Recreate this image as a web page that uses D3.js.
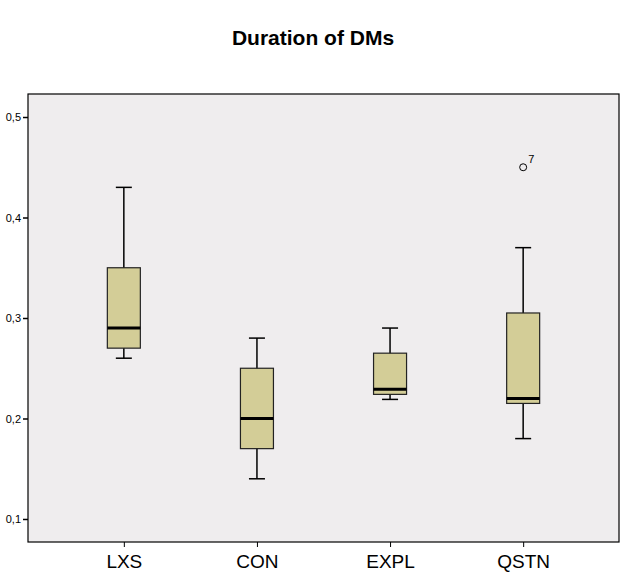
<!DOCTYPE html>
<html>
<head>
<meta charset="utf-8">
<script src="https://cdn.jsdelivr.net/npm/d3@7"></script>
<style>
  body { margin: 0; background: #fff; }
  text { font-family: Arial, "Liberation Sans", sans-serif; }
</style>
</head>
<body>
<svg id="chart" width="626" height="581"></svg>
<script>
// Boxplot: Duration of DMs

var categories = ["LXS", "CON", "EXPL", "QSTN"]
  , whiskerLow  = [0.26, 0.14, 0.219, 0.18]
  , q1          = [0.27, 0.17, 0.224, 0.215]
  , median      = [0.29, 0.20, 0.229, 0.22]
  , q3          = [0.35, 0.25, 0.265, 0.305]
  , whiskerHigh = [0.43, 0.28, 0.29, 0.37]
  , outliers    = [{ cat: "QSTN", value: 0.45, label: "7" }]
  , yTicks      = [0.1, 0.2, 0.3, 0.4, 0.5]
  ;

// Plot frame (note: "top" is reserved on window, so use plot* names)
var svg = d3.select("#chart")
  , plotLeft = 28, plotRight = 619, plotTop = 94, plotBottom = 542
  , boxWidth = 33, capWidth = 16
  ;

var x = d3.scalePoint().domain(categories).range([plotLeft, plotRight]).padding(0.72);
var y = d3.scaleLinear().domain([0.0771, 0.5229]).range([plotBottom, plotTop]);

// Title
svg.append("text")
   .attr("x", 313).attr("y", 45)
   .attr("text-anchor", "middle")
   .style("font-size", "21px").style("font-weight", "bold")
   .text("Duration of DMs");

// Plot area
svg.append("rect")
   .attr("x", plotLeft).attr("y", plotTop)
   .attr("width", plotRight - plotLeft).attr("height", plotBottom - plotTop)
   .attr("fill", "#efedee").attr("stroke", "#000").attr("stroke-width", 1.2);

// Axes
var yAxis = svg.append("g")
   .attr("transform", "translate(" + plotLeft + ",0)")
   .call(d3.axisLeft(y).tickValues(yTicks).tickSize(5).tickPadding(2)
           .tickFormat(function (d) { return d3.format(".1f")(d).replace(".", ","); }));
yAxis.select(".domain").remove();
yAxis.selectAll("text").style("font-size", "11px").attr("fill", "#000");
yAxis.selectAll("line").attr("stroke-width", 1.5);

var xAxis = svg.append("g")
   .attr("transform", "translate(0," + plotBottom + ")")
   .call(d3.axisBottom(x).tickSize(5).tickPadding(8));
xAxis.select(".domain").remove();
xAxis.selectAll("text").style("font-size", "19px").attr("fill", "#000");

// Boxes
var boxes = svg.selectAll(".box")
   .data(categories)
   .enter().append("g")
   .attr("class", "box");

boxes.append("line")   // whisker stem
   .attr("x1", function (d) { return x(d); })
   .attr("x2", function (d) { return x(d); })
   .attr("y1", function (d, i) { return y(whiskerLow[i]); })
   .attr("y2", function (d, i) { return y(whiskerHigh[i]); })
   .attr("stroke", "#000").attr("stroke-width", 1.5);

[whiskerLow, whiskerHigh].forEach(function (arr) {
  boxes.append("line")
     .attr("x1", function (d) { return x(d) - capWidth / 2; })
     .attr("x2", function (d) { return x(d) + capWidth / 2; })
     .attr("y1", function (d, i) { return y(arr[i]); })
     .attr("y2", function (d, i) { return y(arr[i]); })
     .attr("stroke", "#000").attr("stroke-width", 1.5);
});

boxes.append("rect")
   .attr("x", function (d) { return x(d) - boxWidth / 2; })
   .attr("y", function (d, i) { return y(q3[i]); })
   .attr("width", boxWidth)
   .attr("height", function (d, i) { return y(q1[i]) - y(q3[i]); })
   .attr("fill", "#d3cd97").attr("stroke", "#222").attr("stroke-width", 1.2);

boxes.append("line")   // median
   .attr("x1", function (d) { return x(d) - boxWidth / 2; })
   .attr("x2", function (d) { return x(d) + boxWidth / 2; })
   .attr("y1", function (d, i) { return y(median[i]); })
   .attr("y2", function (d, i) { return y(median[i]); })
   .attr("stroke", "#000").attr("stroke-width", 3);

// Outliers
svg.selectAll(".outlier")
   .data(outliers)
   .enter().append("circle")
   .attr("cx", function (d) { return x(d.cat); })
   .attr("cy", function (d) { return y(d.value); })
   .attr("r", 3.5)
   .attr("fill", "none").attr("stroke", "#000").attr("stroke-width", 1);

svg.selectAll(".outlier-label")
   .data(outliers)
   .enter().append("text")
   .attr("x", function (d) { return x(d.cat) + 5; })
   .attr("y", function (d) { return y(d.value) - 4; })
   .style("font-size", "11px")
   .text(function (d) { return d.label; });
</script>
</body>
</html>
